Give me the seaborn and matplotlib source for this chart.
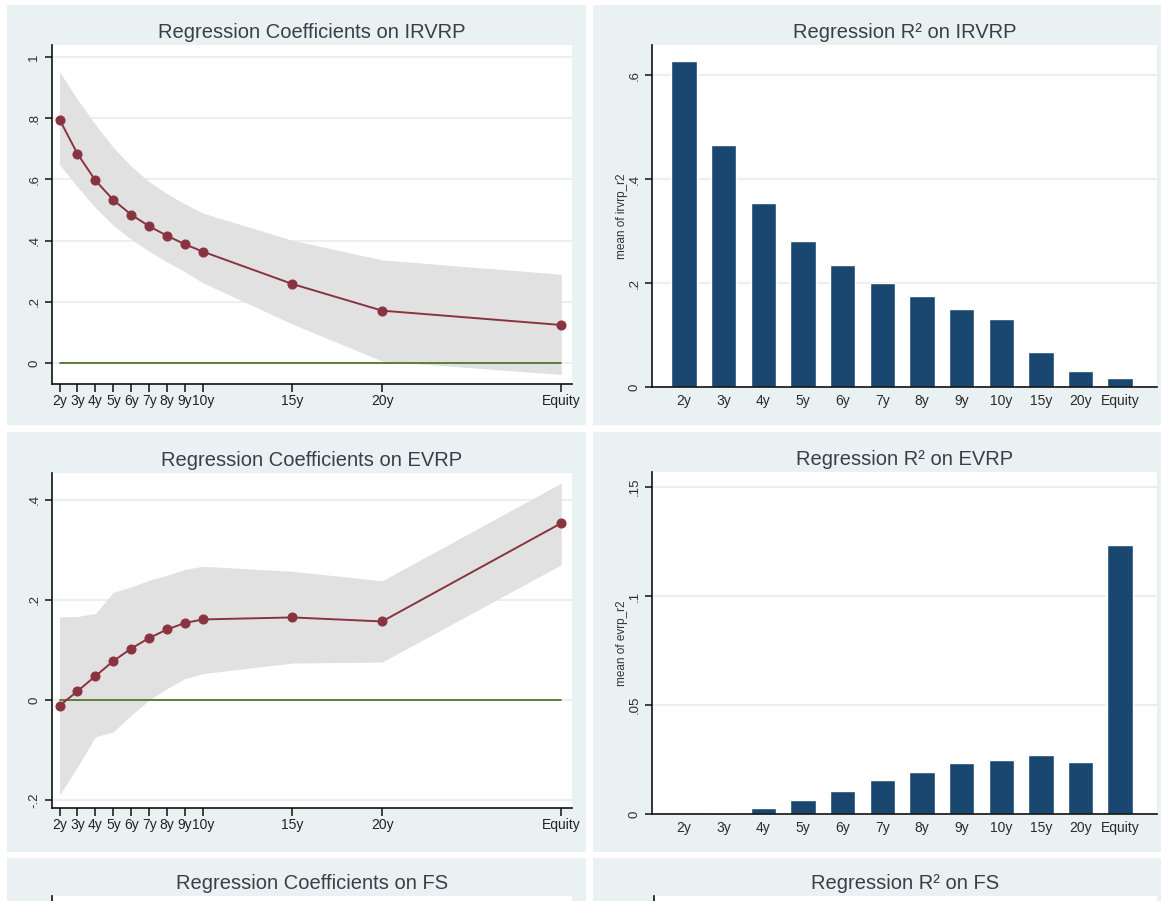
import numpy as np
import pandas as pd
import matplotlib
matplotlib.use("Agg")
import matplotlib.pyplot as plt
from matplotlib.patches import Rectangle
import seaborn as sns

# tenors and their spacing on the coefficient plots (Equity placed at 30)
tenors = ['2y', '3y', '4y', '5y', '6y', '7y', '8y', '9y', '10y', '15y', '20y', 'Equity']
tenor_pos = [2, 3, 4, 5, 6, 7, 8, 9, 10, 15, 20, 30]

# regression coefficients on IRVRP with confidence band
irvrp_coef = [0.796, 0.684, 0.597, 0.533, 0.485, 0.447, 0.416, 0.388, 0.364, 0.258, 0.171, 0.124]
irvrp_hi = [0.952, 0.862, 0.780, 0.705, 0.643, 0.593, 0.553, 0.520, 0.490, 0.401, 0.337, 0.290]
irvrp_lo = [0.648, 0.576, 0.508, 0.450, 0.404, 0.365, 0.330, 0.298, 0.262, 0.127, 0.006, -0.038]

# regression coefficients on EVRP with confidence band
evrp_coef = [-0.011, 0.018, 0.048, 0.078, 0.103, 0.124, 0.141, 0.154, 0.161, 0.165, 0.157, 0.353]
evrp_hi = [0.166, 0.167, 0.173, 0.215, 0.226, 0.239, 0.249, 0.261, 0.267, 0.257, 0.238, 0.433]
evrp_lo = [-0.189, -0.133, -0.073, -0.063, -0.030, 0.000, 0.023, 0.043, 0.053, 0.074, 0.076, 0.270]

# mean R^2 by tenor
irvrp_r2 = [0.628, 0.465, 0.354, 0.281, 0.235, 0.201, 0.175, 0.151, 0.131, 0.068, 0.031, 0.017]
evrp_r2 = [0.0001, 0.0003, 0.0027, 0.0066, 0.0105, 0.0154, 0.0194, 0.0233, 0.0249, 0.0273, 0.0241, 0.1233]

irvrp_yticks = [0, 0.2, 0.4, 0.6, 0.8, 1]
evrp_yticks = [-0.2, 0, 0.2, 0.4]
irvrp_r2_yticks = [0, 0.2, 0.4, 0.6]
evrp_r2_yticks = [0, 0.05, 0.1, 0.15]

BG = '#E9F1F3'
GRID = '#E3ECEE'
MAROON = '#8A3340'
NAVY = '#1A476F'
GREEN = '#55752F'
BAND = '#E1E1E1'
TITLE_C = '#384047'
TEXT_C = '#2E2E2E'

sns.set_style("ticks")
plt.rcParams['font.family'] = ['Liberation Sans', 'DejaVu Sans']

W, H = 1161, 901
fig = plt.figure(figsize=(W / 100, H / 100), dpi=100)
fig.patch.set_facecolor('white')


def panel_bg(x0, y0, x1, y1):
    fig.add_artist(Rectangle((x0 / W, 1 - y1 / H), (x1 - x0) / W, (y1 - y0) / H,
                             transform=fig.transFigure, facecolor=BG,
                             edgecolor='none', zorder=-5))


def px_axes(x0, y0, x1, y1):
    return fig.add_axes([x0 / W, 1 - y1 / H, (x1 - x0) / W, (y1 - y0) / H])


def stata_fmt(v):
    s = f"{v:g}"
    if s.startswith('0.'):
        s = s[1:]
    elif s.startswith('-0.'):
        s = '-' + s[2:]
    return s


def style_axes(ax, yticks):
    ax.set_facecolor('white')
    for side in ['top', 'right']:
        ax.spines[side].set_visible(False)
    for side in ['left', 'bottom']:
        ax.spines[side].set_color('#111111')
        ax.spines[side].set_linewidth(1.2)
    ax.set_yticks(yticks)
    ax.set_yticklabels([stata_fmt(v) for v in yticks], rotation=90, va='center')
    ax.tick_params(axis='y', length=5, width=1.1, color='#111111', pad=3,
                   labelsize=9.5, labelcolor=TEXT_C)
    ax.grid(axis='y', color=GRID, linewidth=1.1)
    ax.grid(axis='x', visible=False)
    ax.set_axisbelow(True)
    ax.set_xlabel('')


for (x0, x1) in [(7, 586), (593, 1161)]:
    panel_bg(x0, 5, x1, 425)
    panel_bg(x0, 432, x1, 852)
    panel_bg(x0, 858, x1, 1200)


def coef_panel(ax, coef, lo, hi, yticks, ylim, title):
    df = pd.DataFrame({'pos': tenor_pos, 'coef': coef, 'lo': lo, 'hi': hi})
    ax.fill_between(df['pos'], df['lo'], df['hi'], color=BAND, linewidth=0, zorder=1)
    ax.plot([tenor_pos[0], tenor_pos[-1]], [0, 0], color=GREEN, linewidth=1.3, zorder=2)
    sns.lineplot(data=df, x='pos', y='coef', ax=ax, color=MAROON, linewidth=1.4,
                 marker='o', markersize=6.5, markeredgecolor=MAROON, zorder=3,
                 errorbar=None)
    style_axes(ax, yticks)
    ax.set_ylabel('')
    ax.set_xlim(1.55, 30.6)
    ax.set_ylim(*ylim)
    ax.set_xticks(tenor_pos)
    ax.set_xticklabels(tenors)
    ax.tick_params(axis='x', length=6, width=1.1, color='#111111', pad=1,
                   labelsize=10, labelcolor='#222222')
    ax.set_title(title, fontsize=14.5, color=TITLE_C, pad=5)


def r2_panel(ax, vals, yticks, ylim, ylabel, title):
    df = pd.DataFrame({'tenor': tenors, 'r2': vals})
    sns.barplot(data=df, x='tenor', y='r2', ax=ax, color=NAVY, saturation=1,
                width=0.64, errorbar=None, zorder=2)
    style_axes(ax, yticks)
    ax.set_xlim(-0.81, 11.93)
    ax.set_ylim(*ylim)
    ax.tick_params(axis='x', length=0, pad=5, labelsize=10, labelcolor='#2a2a2a')
    ax.set_ylabel(ylabel, fontsize=8.5, color='#333333')
    ax.yaxis.set_label_coords(-0.047, 0.5)
    ax.set_title(title, fontsize=14.5, color=TITLE_C, pad=5)


ax1 = px_axes(51.5, 45, 572, 384)
coef_panel(ax1, irvrp_coef, irvrp_lo, irvrp_hi, irvrp_yticks, (-0.069, 1.04),
           'Regression Coefficients on IRVRP')

ax2 = px_axes(652, 45, 1157, 387)
r2_panel(ax2, irvrp_r2, irvrp_r2_yticks, (0, 0.658), 'mean of irvrp_r2',
         'Regression R² on IRVRP')

ax3 = px_axes(51.5, 473, 572, 808)
coef_panel(ax3, evrp_coef, evrp_lo, evrp_hi, evrp_yticks, (-0.215, 0.453),
           'Regression Coefficients on EVRP')

ax4 = px_axes(652, 472, 1157, 814)
r2_panel(ax4, evrp_r2, evrp_r2_yticks, (0, 0.157), 'mean of evrp_r2',
         'Regression R² on EVRP')

# third row, cut off by the bottom edge of the image
for (x0, x1, title) in [(51.5, 572, 'Regression Coefficients on FS'),
                        (654, 1157, 'Regression R² on FS')]:
    ax = px_axes(x0, 896, x1, 1236)
    ax.set_facecolor('white')
    for side in ['top', 'right', 'bottom']:
        ax.spines[side].set_visible(False)
    ax.spines['left'].set_color('#111111')
    ax.spines['left'].set_linewidth(1.2)
    ax.set_xticks([])
    ax.set_yticks([])
    ax.set_title(title, fontsize=14.5, color=TITLE_C, pad=5)

fig.savefig('out.png', dpi=100)
